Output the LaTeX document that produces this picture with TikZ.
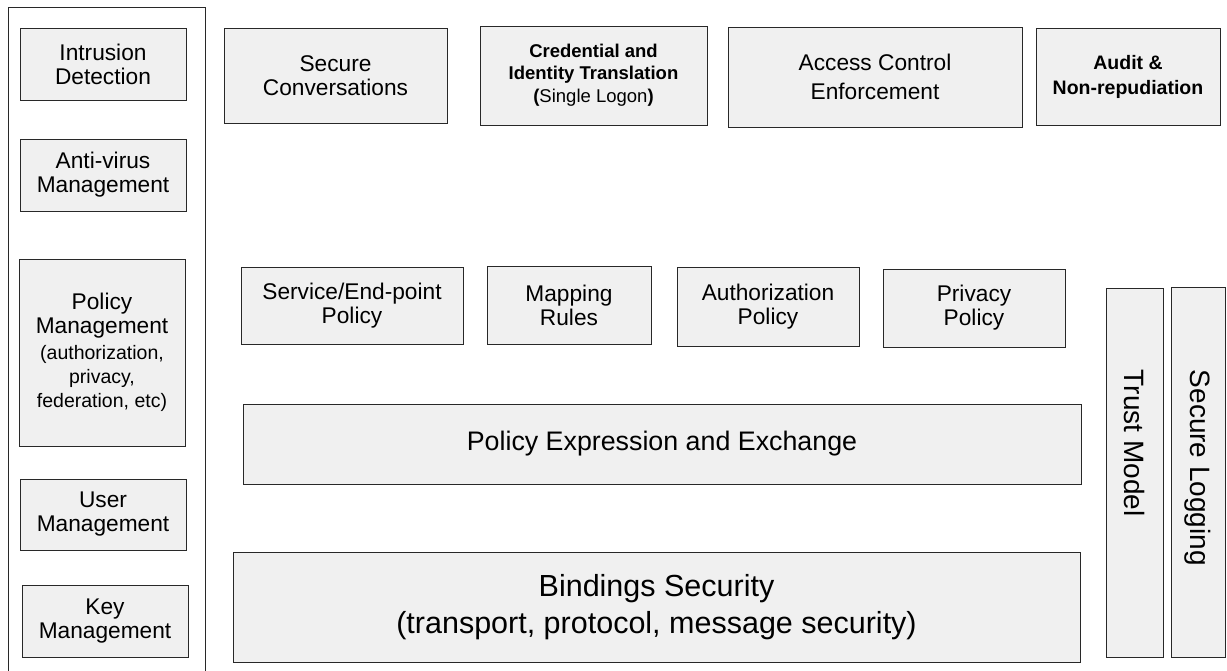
\documentclass[tikz,border=0pt]{standalone}
\usepackage{fontspec}
\setmainfont{Liberation Sans}
\definecolor{boxfill}{RGB}{240,240,240}
\definecolor{boxline}{RGB}{40,40,40}
\tikzset{
  blk/.style={draw=boxline, fill=boxfill, line width=0.9pt, inner sep=0pt, align=center,
    font=\fontsize{22.7}{24}\selectfont},
  sidetxt/.style={rotate=-90, anchor=west, inner sep=0pt, font=\fontsize{28}{30}\selectfont}
}
\begin{document}
\begin{tikzpicture}[x=1pt,y=-1pt]
\useasboundingbox (0,0) rectangle (1227,670);
% left frame (open at bottom)
\draw[draw=boxline, line width=0.9pt] (8,672) -- (8,7) -- (205,7) -- (205,672);
% left column
\node[blk, minimum width=166, minimum height=72] (intr) at (103,64) {Intrusion\\Detection};
\node[blk, minimum width=166, minimum height=72] (anti) at (103,175) {Anti-virus\\Management};
\node[blk, minimum width=166, minimum height=187] (polm) at (102,352.5) {Policy\\Management\\[2pt]{\fontsize{19.5}{23}\selectfont (authorization,}\\{\fontsize{19.5}{23}\selectfont privacy,}\\{\fontsize{19.5}{23}\selectfont federation, etc)}};
\node[blk, minimum width=166, minimum height=71] (user) at (103,514.5) {User\\Management};
\node[blk, minimum width=166, minimum height=72] (keym) at (105,621) {Key\\Management};
% top row
\node[blk, minimum width=223, minimum height=95] (secc) at (335.5,75.5) {Secure\\Conversations};
\node[blk, minimum width=227, minimum height=99, font=\fontsize{18.5}{22}\selectfont] (cred) at (593.5,75.5) {\textbf{Credential and}\\\textbf{Identity Translation}\\[1pt]\textbf{(}Single Logon\textbf{)}};
\node[blk, minimum width=294, minimum height=100, font=\fontsize{22.7}{28.5}\selectfont] (acce) at (875,77) {Access Control\\Enforcement};
\node[blk, minimum width=184, minimum height=97, font=\fontsize{19.5}{25}\selectfont\bfseries] (audi) at (1128,76.5) {Audit \&\\Non-repudiation};
% policy row
\node[blk, minimum width=222, minimum height=77] (serv) at (352,305.5) {Service/End-point\\Policy};
\node[blk, minimum width=164, minimum height=78] (mapp) at (569,305) {Mapping\\Rules};
\node[blk, minimum width=182, minimum height=79] (auth) at (768,306.5) {Authorization\\Policy};
\node[blk, minimum width=182, minimum height=78] (priv) at (974,308) {Privacy\\Policy};
% wide layers
\node[blk, minimum width=838, minimum height=80, font=\fontsize{26.8}{30}\selectfont] (pexp) at (662,444) {Policy Expression and Exchange};
\node[blk, minimum width=847, minimum height=110, font=\fontsize{30.5}{37}\selectfont] (bind) at (656.5,607) {Bindings Security\\(transport, protocol, message security)};
% vertical bars
\node[blk, minimum width=57, minimum height=369] (trus) at (1134.5,472.5) {};
\node[blk, minimum width=54, minimum height=370] (slog) at (1198,472) {};
\node[sidetxt] (trustxt) at ([yshift=-82]trus.north) {Trust Model};
\node[sidetxt] (slogtxt) at ([yshift=-83]slog.north) {Secure Logging};
\end{tikzpicture}
\end{document}
